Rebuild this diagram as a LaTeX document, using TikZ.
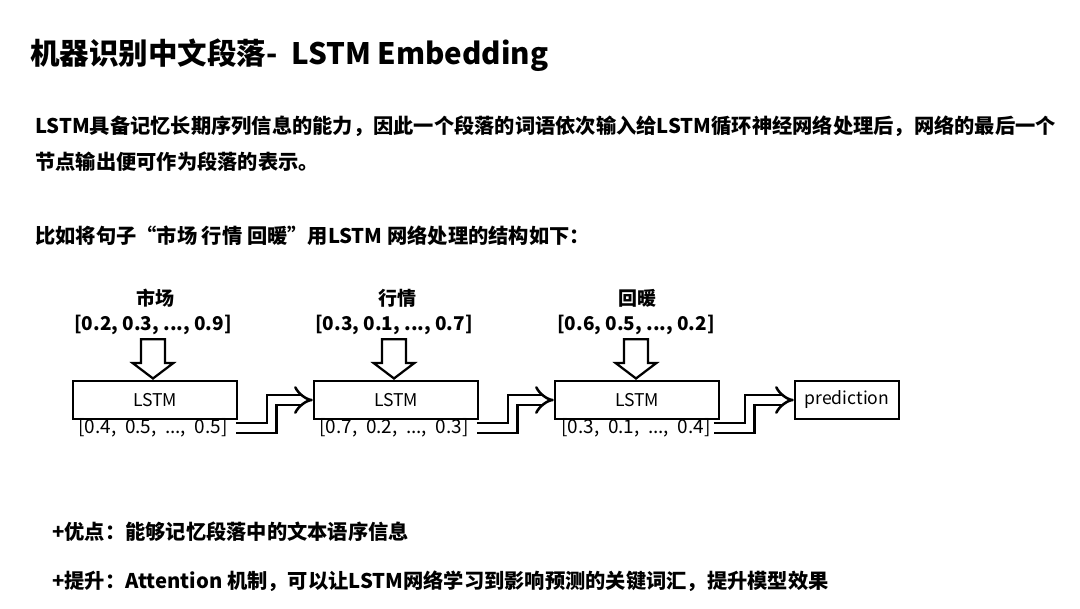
\documentclass[tikz,border=0pt]{standalone}
\usepackage{fontspec}
\setmainfont{Noto Sans CJK SC}
\usepackage{tikz}
\usetikzlibrary{arrows.meta, positioning, calc}
% hollow block arrow pointing down, from one node to another
\newcommand{\hollowdown}[2]{%
    \draw[line width=1.6pt, fill=white, line join=miter]
    let \p1=(#1.south), \p2=(#2.north) in
    (\x1-8.5pt,\y1-3pt) -- (\x1+8.5pt,\y1-3pt) -- (\x1+8.5pt,\y2+12pt) -- (\x1+14.5pt,\y2+12pt)
    -- (\x1,\y2+1pt) -- (\x1-14.5pt,\y2+12pt) -- (\x1-8.5pt,\y2+12pt) -- cycle;}

\begin{document}
\begin{tikzpicture}[x=0.025cm, y=-0.025cm,
    txt/.style={anchor=west, inner sep=0pt, font=\fontsize{14.4}{16}\selectfont\bfseries},
    lstmbox/.style={draw, line width=1.6pt, minimum width=4.1cm, minimum height=0.95cm, inner sep=0pt, font=\fontsize{12.5}{14}\selectfont},
    word/.style={inner sep=0pt, font=\fontsize{13.5}{15}\selectfont\bfseries},
    outvec/.style={inner sep=0pt, font=\fontsize{13.5}{15}\selectfont},
    steparrow/.style={double, double distance=5pt, line width=1.8pt, -{Implies}}]
    \useasboundingbox (0,0) rectangle (1080,608);

    \node[txt, font=\fontsize{21}{23}\selectfont\bfseries] (title) at (30,55) {机器识别中文段落-\ \ LSTM Embedding};
    \node[txt] (para1) at (35,126) {LSTM具备记忆长期序列信息的能力，因此一个段落的词语依次输入给LSTM循环神经网络处理后，网络的最后一个};
    \node[txt] (para2) at (35,162) {节点输出便可作为段落的表示。};
    \node[txt] (intro) at (35,236) {比如将句子“市场 行情 回暖”用LSTM 网络处理的结构如下：};

    % three steps of the network
    \node[word] (w1) at (155,298) {市场};
    \node[word] (w2) at (397,298) {行情};
    \node[word] (w3) at (637,298) {回暖};
    \node[word] (v1) at (153,325) {[0.2, 0.3, ..., 0.9]};
    \node[word] (v2) at (394,325) {[0.3, 0.1, ..., 0.7]};
    \node[word] (v3) at (636,325) {[0.6, 0.5, ..., 0.2]};

    \node[lstmbox] (l1) at (155,400) {LSTM};
    \node[lstmbox] (l2) at (396,400) {LSTM};
    \node[lstmbox] (l3) at (637,400) {LSTM};
    \node[lstmbox, minimum width=2.6cm] (pred) at (847,400) {prediction};

    \node[outvec] (o1) at (153,428) {[0.4,\ \ 0.5,\ \ ...,\ \ 0.5]};
    \node[outvec] (o2) at (394,428) {[0.7,\ \ 0.2,\ \ ...,\ \ 0.3]};
    \node[outvec] (o3) at (636,428) {[0.3,\ \ 0.1,\ \ ...,\ \ 0.4]};

    \hollowdown{v1}{l1}
    \hollowdown{v2}{l2}
    \hollowdown{v3}{l3}

    \draw[steparrow] (o1.east) ++(8,0) -- ++(36,0) |- (l2.west);
    \draw[steparrow] (o2.east) ++(8,0) -- ++(36,0) |- (l3.west);
    \draw[steparrow] (o3.east) ++(3,0) -- ++(36,0) |- (pred.west);

    \node[txt] (pro) at (52,532) {+优点：能够记忆段落中的文本语序信息};
    \node[txt] (plus) at (52,581) {+提升：Attention 机制，可以让LSTM网络学习到影响预测的关键词汇，提升模型效果};
\end{tikzpicture}
\end{document}
